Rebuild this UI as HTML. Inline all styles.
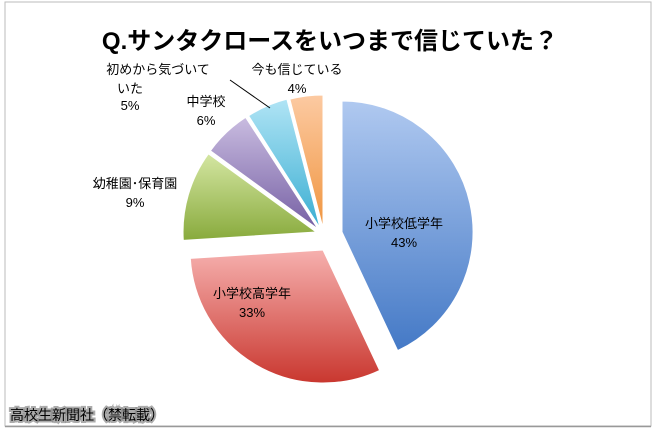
<!DOCTYPE html>
<html><head><meta charset="utf-8"><style>
body{margin:0;background:#fff;width:660px;height:438px;overflow:hidden}
svg{display:block}
text{font-family:"Liberation Sans","Noto Sans CJK JP",sans-serif;fill:#000}
</style></head><body>
<svg width="660" height="438" viewBox="0 0 660 438">
<defs>
<linearGradient id="gb" x1="0" y1="0" x2="0" y2="1"><stop offset="0" stop-color="#b0c9f0"/><stop offset="1" stop-color="#4479c6"/></linearGradient>
<linearGradient id="gr" x1="0" y1="0" x2="0" y2="1"><stop offset="0" stop-color="#f6b0ae"/><stop offset="1" stop-color="#c9372f"/></linearGradient>
<linearGradient id="gg" x1="0" y1="0" x2="0" y2="1"><stop offset="0" stop-color="#d4e6a2"/><stop offset="1" stop-color="#88aa3c"/></linearGradient>
<linearGradient id="gp" x1="0" y1="0" x2="0" y2="1"><stop offset="0" stop-color="#c9bce0"/><stop offset="1" stop-color="#7660a4"/></linearGradient>
<linearGradient id="gc" x1="0" y1="0" x2="0" y2="1"><stop offset="0" stop-color="#b0e4f5"/><stop offset="1" stop-color="#3aaed2"/></linearGradient>
<linearGradient id="go" x1="0" y1="0" x2="0" y2="1"><stop offset="0" stop-color="#fccaa2"/><stop offset="1" stop-color="#f0953f"/></linearGradient>
<filter id="sh" x="-10%" y="-30%" width="120%" height="160%"><feGaussianBlur in="SourceAlpha" stdDeviation="1.5"/><feComponentTransfer><feFuncA type="linear" slope="2"/></feComponentTransfer><feFlood flood-color="#555"/><feComposite operator="in" in2="x"/></filter>
</defs>
<rect x="5" y="2" width="646" height="424" fill="#fff" stroke="#bbb" stroke-width="1"/>
<line x1="5" y1="426.5" x2="651" y2="426.5" stroke="#999" stroke-width="1.5"/>
<text x="330" y="49" font-size="24" font-weight="bold" text-anchor="middle">Q.サンタクロースをいつまで信じていた？</text>
<g stroke="#fff" stroke-width="1">
<path d="M342,232 L342,101 A131,131 0 0 1 397.7,350.6 Z" fill="url(#gb)"/>
<path d="M323,250 L379.6,370.4 A133,133 0 0 1 190.3,258.4 Z" fill="url(#gr)"/>
<path d="M316,232 L183.3,240.4 A133,133 0 0 1 208.4,153.8 Z" fill="url(#gg)"/>
<path d="M318,229 L210.4,150.8 A133,133 0 0 1 245.6,117.3 Z" fill="url(#gp)"/>
<path d="M320,228 L248.6,115.8 A133,133 0 0 1 286.9,99.2 Z" fill="url(#gc)"/>
<path d="M323,228 L289.9,99.2 A133,133 0 0 1 323,95 Z" fill="url(#go)"/>
</g>
<line x1="230" y1="80" x2="270" y2="108" stroke="#000" stroke-width="1"/>
<g font-size="13" text-anchor="middle">
<text x="404" y="228">小学校低学年</text><text x="404" y="247">43%</text>
<text x="252" y="298">小学校高学年</text><text x="252" y="317">33%</text>
<text x="135" y="188">幼稚園･保育園</text><text x="135" y="207">9%</text>
<text x="206" y="106">中学校</text><text x="206" y="125">6%</text>
<text x="297" y="74">今も信じている</text><text x="297" y="93">4%</text>
<text x="158" y="74">初めから気づいて</text><text x="130" y="93">いた</text><text x="130" y="110">5%</text>
</g>
<text x="10" y="420" font-size="14" fill="#fff" stroke="#888" stroke-width="4" stroke-opacity="0.7" paint-order="stroke">高校生新聞社（禁転載）</text>
</svg>
</body></html>
